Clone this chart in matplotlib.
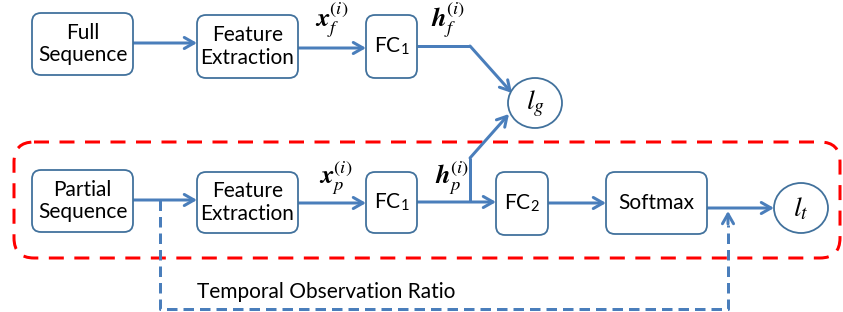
import matplotlib.pyplot as plt
from matplotlib.patches import FancyBboxPatch, Ellipse

plt.rcParams['mathtext.fontset'] = 'stix'
plt.rcParams['font.family'] = ['Lato', 'DejaVu Sans']

# node labels
top_labels = ['Full\nSequence', 'Feature\nExtraction', r'FC$_\mathregular{1}$']
bottom_labels = ['Partial\nSequence', 'Feature\nExtraction', r'FC$_\mathregular{1}$',
                 r'FC$_\mathregular{2}$', 'Softmax']
edge_labels = [r'$\mathbfit{x}_f^{(i)}$', r'$\mathbfit{h}_f^{(i)}$',
               r'$\mathbfit{x}_p^{(i)}$', r'$\mathbfit{h}_p^{(i)}$']
loss_labels = ['$l_g$', '$l_t$']
ratio_label = 'Temporal Observation Ratio'

# layout in pixels (x0, y0, x1, y1)
top_boxes = [(32, 13, 133, 75), (197, 15, 298, 78), (366, 15, 417, 78)]
bottom_boxes = [(32, 170, 133, 232), (197, 172, 298, 233), (366, 172, 417, 233),
                (496, 172, 548, 235), (606, 172, 707, 234)]

BOX_EDGE = '#41719C'
LINE = '#4A7EBB'
px = 72 / 100

fig = plt.figure(figsize=(8.43, 3.12), dpi=100)
ax = fig.add_axes([0, 0, 1, 1])
ax.set_xlim(0, 843)
ax.set_ylim(312, 0)
ax.axis('off')


def box(b, label):
    x0, y0, x1, y1 = b
    p = FancyBboxPatch((x0, y0), x1 - x0, y1 - y0, boxstyle='round,pad=0,rounding_size=9',
                       fc='white', ec=BOX_EDGE, lw=1.8 * px, zorder=3)
    ax.add_patch(p)
    ax.text((x0 + x1) / 2, (y0 + y1) / 2, label, ha='center', va='center',
            fontsize=15, linespacing=1.15, zorder=4)


def arrow(x0, y0, x1, y1):
    ax.annotate('', xy=(x1, y1), xytext=(x0, y0),
                arrowprops=dict(arrowstyle='->,head_length=0.7,head_width=0.4',
                                color=LINE, lw=3 * px, shrinkA=0, shrinkB=0), zorder=2)


for b, l in zip(top_boxes, top_labels):
    box(b, l)
for b, l in zip(bottom_boxes, bottom_labels):
    box(b, l)

# loss circles
for (cx, cy), l in zip([(535, 103), (801, 208)], loss_labels):
    ax.add_patch(Ellipse((cx, cy), 54, 50, fc='white', ec=BOX_EDGE, lw=1.8 * px, zorder=3))
    ax.text(cx, cy + 1, l, ha='center', va='center', fontsize=20, zorder=4)

# top row arrows
arrow(133, 43, 197, 43)
arrow(298, 48, 366, 48)
ax.plot([417, 470], [46, 46], color=LINE, lw=3 * px, solid_capstyle='butt')
arrow(470, 46, 512, 93)

# bottom row arrows
arrow(133, 200, 197, 200)
arrow(298, 203, 366, 203)
arrow(417, 202, 496, 202)
arrow(548, 203, 606, 203)
arrow(707, 208, 774, 208)
ax.plot([470, 470], [202, 158], color=LINE, lw=3 * px, solid_capstyle='butt')
arrow(470, 158, 509, 114)

# edge labels
for (x, y), l in zip([(332, 20), (448, 20), (336, 178), (452, 178)], edge_labels):
    ax.text(x, y, l, ha='center', va='center', fontsize=19)

# red dashed frame
ax.add_patch(FancyBboxPatch((14, 142), 826, 116, boxstyle='round,pad=0,rounding_size=20',
                            fc='none', ec='red', lw=3 * px, ls=(0, (5, 3.5)), zorder=1))

# blue dashed ratio path
ax.plot([160, 160, 728, 728], [200, 309, 309, 225], color=LINE, lw=3 * px,
        ls=(0, (3.5, 2)), zorder=2)
ax.annotate('', xy=(728, 211), xytext=(728, 224),
            arrowprops=dict(arrowstyle='->,head_length=0.7,head_width=0.4',
                            color=LINE, lw=3 * px, shrinkA=0, shrinkB=0))
ax.text(197, 292, ratio_label, ha='left', va='center', fontsize=15)

fig.savefig('out.png', dpi=100)
